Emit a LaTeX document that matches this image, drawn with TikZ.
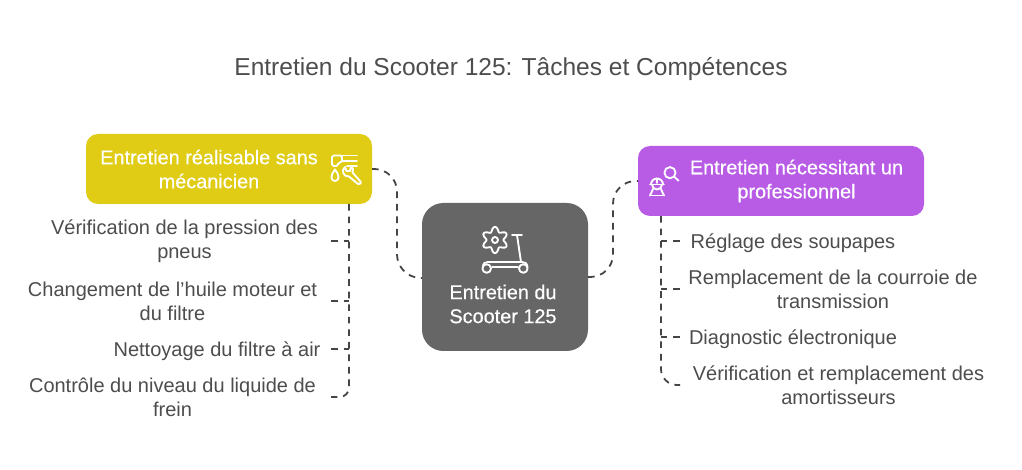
\documentclass[tikz,border=0pt]{standalone}
\usepackage{fontspec}
\setmainfont{Liberation Sans}
\newfontfamily\medfont[FakeBold=0.4]{Liberation Sans}
\definecolor{ink}{HTML}{4D4D4D}
\definecolor{conn}{HTML}{454545}
\definecolor{yel}{HTML}{E0CC14}
\definecolor{pur}{HTML}{B85CE6}
\definecolor{gry}{HTML}{666666}
\newcommand{\oneline}[1]{\raisebox{0pt}[14pt][3pt]{#1}}
\tikzset{
  x=0.75pt,y=-0.75pt,
  boxnode/.style={draw=none,inner sep=0pt,outer sep=0pt,rounded corners=9pt},
  boxlabel/.style={inner sep=0pt,align=center,text=white,font=\medfont\fontsize{14.9}{18}\selectfont},
  leaf/.style={inner sep=0pt,outer sep=0pt,align=center,text=ink,font=\fontsize{15}{18}\selectfont},
  link/.style={draw=conn,line width=1.35pt,dash pattern=on 5pt off 4.4pt},
  icon/.style={draw=white,line width=1.4pt,line cap=round,line join=round},
}
\begin{document}
\begin{tikzpicture}
\useasboundingbox (0,0) rectangle (1022,470);
\fill[white] (0,0) rectangle (1022,470);
\node[text=ink,inner sep=0pt,font=\fontsize{18.4}{22}\selectfont] (title) at (511,69) {Entretien du Scooter 125: Tâches et Compétences};
% boxes
\node[boxnode,fill=yel,minimum width=214.5pt,minimum height=52.5pt] (yellow) at (229,169) {};
\node[boxnode,fill=pur,minimum width=214.5pt,minimum height=52.5pt] (purple) at (781,181) {};
\node[boxnode,fill=gry,minimum width=124.5pt,minimum height=111pt,rounded corners=16pt] (center) at (505,277) {};
\node[boxlabel] (ytext) at (209,169) {Entretien réalisable sans\\mécanicien};
\node[boxlabel] (ptext) at (796.5,181) {Entretien nécessitant un\\professionnel};
\node[boxlabel] (ctext) at (503,304) {Entretien du\\Scooter 125};
% leaves
\node[leaf,minimum width=293*0.75pt] (l1) at (184.5,241) {Vérification de la pression des\\pneus};
\node[leaf,minimum width=317*0.75pt] (l2) at (172.5,301) {Changement de l’huile moteur et\\du filtre};
\node[leaf,minimum width=228*0.75pt] (l3) at (217,349) {\oneline{Nettoyage du filtre à air}};
\node[leaf,minimum width=317*0.75pt] (l4) at (172.5,397) {Contrôle du niveau du liquide de\\frein};
\node[leaf,minimum width=226*0.75pt] (r1) at (793,241) {\oneline{Réglage des soupapes}};
\node[leaf,minimum width=306*0.75pt] (r2) at (833,289) {Remplacement de la courroie de\\transmission};
\node[leaf,minimum width=226*0.75pt] (r3) at (793,337) {\oneline{Diagnostic électronique}};
\node[leaf,minimum width=317*0.75pt] (r4) at (838.5,385) {Vérification et remplacement des\\amortisseurs};
% connector helpers
\coordinate (ymid) at (397,200);
\coordinate (pmid) at (613,200);
\coordinate (yt) at (349,204);
\coordinate (pt) at (661,216);
% main connectors
\draw[link,rounded corners=17pt] (yellow.east) -- (yellow.east -| ymid) -- (center.west -| ymid) -- ([yshift=-0.75pt]center.west);
\draw[link,rounded corners=17pt] (center.east) -- (center.east -| pmid) -- (purple.west -| pmid) -- (purple.west);
% left trunk
\draw[link,rounded corners=7pt] (yt) -- (yt |- l4.east) -- (l4.east);
\draw[link] (l1.east) -- (l1.east -| yt);
\draw[link] (l2.east) -- (l2.east -| yt);
\draw[link] (l3.east) -- (l3.east -| yt);
% right trunk
\draw[link,rounded corners=12pt] (pt) -- (pt |- r4.west) -- (r4.west);
\draw[link] (r1.west) -- (r1.west -| pt);
\draw[link] (r2.west) -- (r2.west -| pt);
\draw[link] (r3.west) -- (r3.west -| pt);
% scooter icon
\draw[icon] plot[smooth cycle,samples=49,domain=0:352.5,variable=\t] ({495+(10.8-2.4*cos(6*\t))*cos(\t)},{240+(10.8-2.4*cos(6*\t))*sin(\t)});
\draw[icon] (495,240) circle (3);
\draw[icon] (512,235) -- (522,235);
\draw[icon] (517,235) -- (521,262);
\draw[icon] (483,267) .. controls (483,263) and (485,262) .. (488,262) -- (522,262) .. controls (525,262) and (527,263) .. (527.5,267);
\draw[icon] (492,267) -- (518,267);
\draw[icon] (486.7,268.5) circle (4.3);
\draw[icon] (523.3,268.5) circle (4.3);
% tap and wrench icon
\draw[icon,rounded corners=1.2pt] (342,155.5) -- (332,155.5) -- (332,166) -- (338,166) -- (338,162.5) -- (342,162.5) -- cycle;
\draw[icon] (342,155.5) -- (357,155.5);
\draw[icon] (342,161) -- (357,161);
\draw[icon] (347,166) -- (357,166);
\draw[icon] (335,169.5) .. controls (332,174) and (331.5,175) .. (331.5,177.5) arc[start angle=180,end angle=0,radius=3.5] .. controls (338.5,175) and (338,174) .. (335,169.5) -- cycle;
\draw[icon] (345,167) .. controls (341,170) and (343,177) .. (349,176.5) -- (358,184) .. controls (360,185) and (362,183) .. (360,181) -- (352.5,172.5) .. controls (354,170) and (353,168) .. (351,166.5) -- (350,171) -- (346.5,171) -- cycle;
% worker and magnifier icon
\draw[icon] (670,172.7) circle (5.6);
\draw[icon] (674.2,176.7) -- (678.5,180.7);
\draw[icon] (650,184.5) -- (664,184.5);
\draw[icon] (652,184.5) arc[start angle=180,end angle=0,radius=5];
\draw[icon] (651,184.5) arc[start angle=180,end angle=360,radius=6];
\draw[icon] (657,178.5) -- (657,183);
\draw[icon] (653,189) .. controls (653,192) and (650,193) .. (650,195.5);
\draw[icon] (661,189) .. controls (661,192) and (664,193) .. (664,195.5);
\draw[icon] (650,195.5) -- (664,195.5);
\end{tikzpicture}
\end{document}
